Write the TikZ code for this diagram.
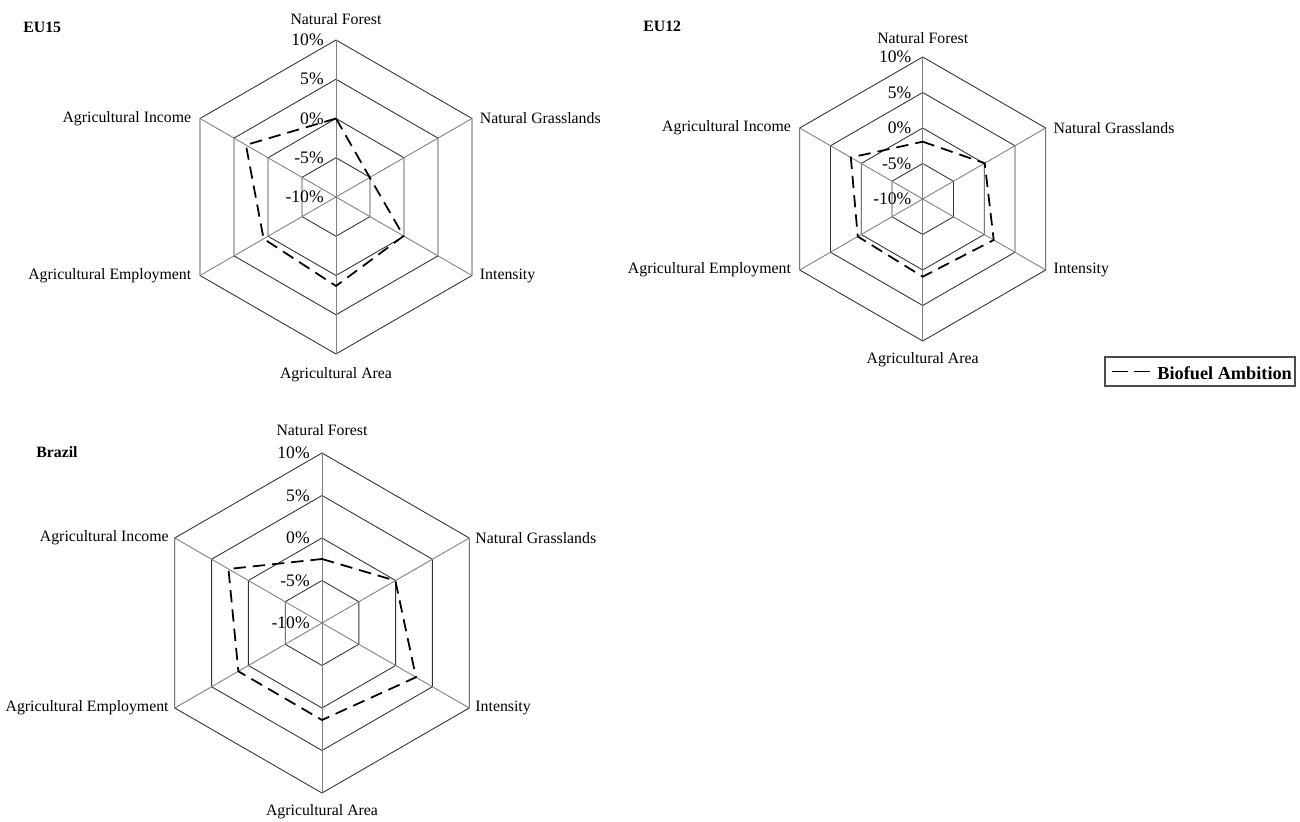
\documentclass[tikz,border=0pt]{standalone}
\usepackage{fontspec}
\setmainfont{Liberation Serif}

\begin{document}
\begin{tikzpicture}[x=0.02cm,y=0.02cm,
    ring/.style={draw=black!80,line width=0.5pt},
    spoke/.style={draw=black!50,line width=0.5pt},
    biofuel/.style={line width=1pt,dash pattern=on 7pt off 4pt},
    axislbl/.style={font=\fontsize{9}{10}\selectfont},
    pctlbl/.style={font=\fontsize{10}{11}\selectfont,anchor=east,inner sep=0pt},
    chartname/.style={font=\bfseries\fontsize{9}{10}\selectfont,anchor=west,inner sep=0pt}]
  \useasboundingbox (0,0) rectangle (1300,821);

  % EU15
  \begin{scope}[shift={(336,624)}]
    \foreach \r in {39.25,78.5,117.75,157}
      \draw[ring] (90:\r) -- (30:\r) -- (-30:\r) -- (-90:\r) -- (-150:\r) -- (150:\r) -- cycle;
    \foreach \a in {90,30,-30,-90,-150,150}
      \draw[spoke] (0,0) -- (\a:157);
    \foreach \k/\p in {0/-10,1/-5,2/0,3/5,4/10}
      \node[pctlbl] (eu15-p\k) at (-12,\k*39.25) {\p\%};
    \draw[biofuel] (90:78.5) -- (30:39) -- (-30:78) -- (-90:89) -- (-150:83.6) -- (150:104) -- cycle;
    \node[axislbl] (eu15-nf) at (90:178) {Natural Forest};
    \node[axislbl,right=1pt] (eu15-ng) at (30:157) {Natural Grasslands};
    \node[axislbl,right=1pt] (eu15-int) at (-30:157) {Intensity};
    \node[axislbl] (eu15-aa) at (-90:178) {Agricultural Area};
    \node[axislbl,left=1.5pt] (eu15-ae) at (-150:157) {Agricultural Employment};
    \node[axislbl,left=1.5pt] (eu15-ai) at (150:157) {Agricultural Income};
  \end{scope}
  \node[chartname] (eu15) at (23,794) {EU15};

  % EU12
  \begin{scope}[shift={(922.7,622)}]
    \foreach \r in {35.5,71,106.5,142}
      \draw[ring] (90:\r) -- (30:\r) -- (-30:\r) -- (-90:\r) -- (-150:\r) -- (150:\r) -- cycle;
    \foreach \a in {90,30,-30,-90,-150,150}
      \draw[spoke] (0,0) -- (\a:142);
    \foreach \k/\p in {0/-10,1/-5,2/0,3/5,4/10}
      \node[pctlbl] (eu12-p\k) at (-11,\k*35.5) {\p\%};
    \draw[biofuel] (90:57.3) -- (30:71.6) -- (-30:82) -- (-90:77.7) -- (-150:75) -- (150:83) -- cycle;
    \node[axislbl] (eu12-nf) at (90:161) {Natural Forest};
    \node[axislbl,right=1pt] (eu12-ng) at (30:142) {Natural Grasslands};
    \node[axislbl,right=1pt] (eu12-int) at (-30:142) {Intensity};
    \node[axislbl] (eu12-aa) at (-90:161) {Agricultural Area};
    \node[axislbl,left=1.5pt] (eu12-ae) at (-150:142) {Agricultural Employment};
    \node[axislbl,left=1.5pt] (eu12-ai) at (150:142) {Agricultural Income};
  \end{scope}
  \node[chartname] (eu12) at (643,795) {EU12};

  % Brazil
  \begin{scope}[shift={(322,198)}]
    \foreach \r in {42.5,85,127.5,170}
      \draw[ring] (90:\r) -- (30:\r) -- (-30:\r) -- (-90:\r) -- (-150:\r) -- (150:\r) -- cycle;
    \foreach \a in {90,30,-30,-90,-150,150}
      \draw[spoke] (0,0) -- (\a:170);
    \foreach \k/\p in {0/-10,1/-5,2/0,3/5,4/10}
      \node[pctlbl] (br-p\k) at (-12,\k*42.5) {\p\%};
    \draw[biofuel] (90:64) -- (30:84.7) -- (-30:108.5) -- (-90:97) -- (-150:96.6) -- (150:108) -- cycle;
    \node[axislbl] (br-nf) at (90:193) {Natural Forest};
    \node[axislbl,right=0pt] (br-ng) at (30:170) {Natural Grasslands};
    \node[axislbl,right=0pt] (br-int) at (-30:170) {Intensity};
    \node[axislbl] (br-aa) at (-90:189) {Agricultural Area};
    \node[axislbl,left=0pt] (br-ae) at (-150:170) {Agricultural Employment};
    \node[axislbl,left=0pt] (br-ai) at (150:170) {Agricultural Income};
  \end{scope}
  \node[chartname] (br) at (36,369) {Brazil};

  % legend
  \draw[black!70,line width=0.6pt] (1105,435) rectangle (1295,464);
  \node[anchor=west,inner sep=0pt,font=\bfseries\fontsize{10.4}{12}\selectfont] (leg) at (1157,447.7) {Biofuel Ambition};
  \coordinate (leg-a) at (1112,449.5);
  \coordinate (leg-b) at (1150,449.5);
  \draw[line width=1.1pt,dash pattern=on 9pt off 3.5pt] (leg-a) -- (leg-b);
\end{tikzpicture}
\end{document}
